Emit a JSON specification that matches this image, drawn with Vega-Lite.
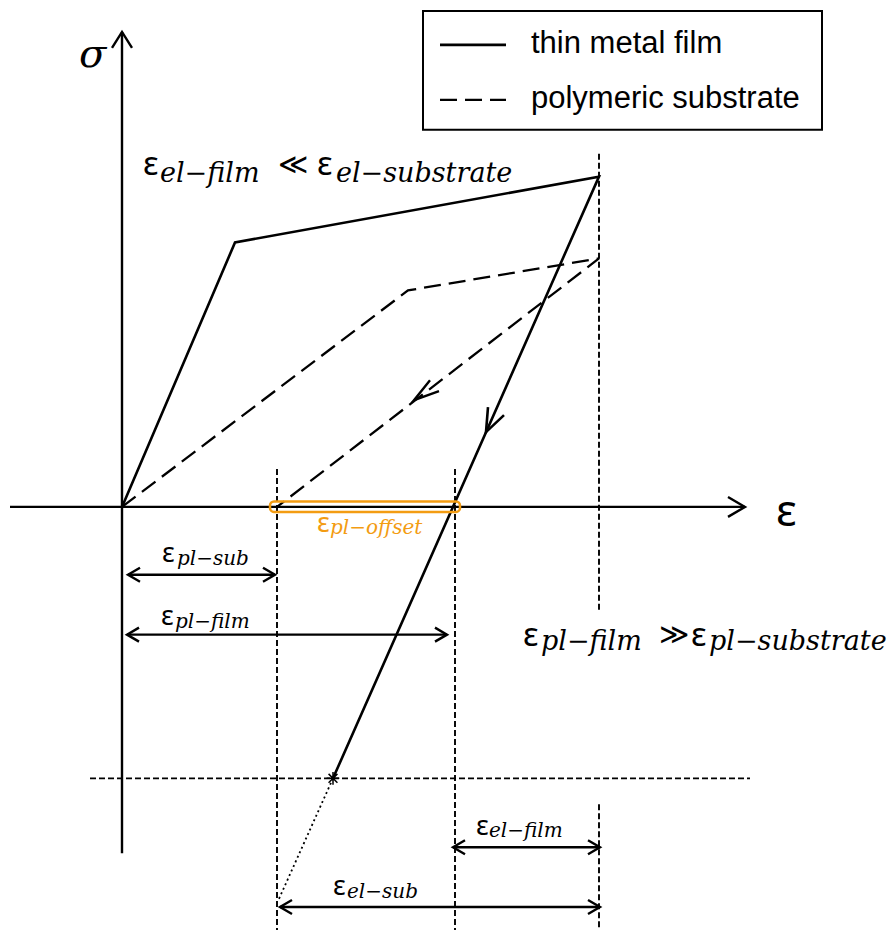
{
  "$schema": "https://vega.github.io/schema/vega-lite/v6.json",
  "width": 893,
  "height": 934,
  "autosize": {"type": "fit", "contains": "padding"},
  "padding": 0,
  "background": "white",
  "config": {"view": {"stroke": null}},
  "datasets": {
    "paths": [
      {"id": "axis-y", "pen": "axis", "seq": 0, "x": 0, "y": -3.47},
      {"id": "axis-y", "pen": "axis", "seq": 1, "x": 0, "y": 4.76},
      {"id": "axis-y-head", "pen": "axis", "seq": 0, "x": -0.10, "y": 4.60},
      {"id": "axis-y-head", "pen": "axis", "seq": 1, "x": 0, "y": 4.76},
      {"id": "axis-y-head", "pen": "axis", "seq": 2, "x": 0.10, "y": 4.60},
      {"id": "axis-x", "pen": "axis", "seq": 0, "x": -1.12, "y": 0},
      {"id": "axis-x", "pen": "axis", "seq": 1, "x": 6.23, "y": 0},
      {"id": "axis-x-head", "pen": "axis", "seq": 0, "x": 6.06, "y": 0.10},
      {"id": "axis-x-head", "pen": "axis", "seq": 1, "x": 6.23, "y": 0},
      {"id": "axis-x-head", "pen": "axis", "seq": 2, "x": 6.06, "y": -0.10},

      {"id": "film", "pen": "film", "seq": 0, "x": 0, "y": 0},
      {"id": "film", "pen": "film", "seq": 1, "x": 1.13, "y": 2.65},
      {"id": "film", "pen": "film", "seq": 2, "x": 4.77, "y": 3.31},
      {"id": "film", "pen": "film", "seq": 3, "x": 2.11, "y": -2.72},
      {"id": "film-head", "pen": "film", "seq": 0, "x": 3.66, "y": 1.00},
      {"id": "film-head", "pen": "film", "seq": 1, "x": 3.64, "y": 0.75},
      {"id": "film-head", "pen": "film", "seq": 2, "x": 3.82, "y": 0.92},
      {"id": "legend-film", "pen": "film", "seq": 0, "x": 3.18, "y": 4.63},
      {"id": "legend-film", "pen": "film", "seq": 1, "x": 3.84, "y": 4.63},

      {"id": "substrate", "pen": "sub", "seq": 0, "x": 0, "y": 0},
      {"id": "substrate", "pen": "sub", "seq": 1, "x": 2.86, "y": 2.17},
      {"id": "substrate", "pen": "sub", "seq": 2, "x": 4.77, "y": 2.49},
      {"id": "substrate", "pen": "sub", "seq": 3, "x": 1.55, "y": 0},
      {"id": "legend-sub", "pen": "sub", "seq": 0, "x": 3.18, "y": 4.08},
      {"id": "legend-sub", "pen": "sub", "seq": 1, "x": 3.84, "y": 4.08},

      {"id": "g-peak-top", "pen": "guide", "seq": 0, "x": 4.77, "y": 3.54},
      {"id": "g-peak-top", "pen": "guide", "seq": 1, "x": 4.77, "y": -1.06},
      {"id": "g-peak-bottom", "pen": "guide", "seq": 0, "x": 4.77, "y": -2.98},
      {"id": "g-peak-bottom", "pen": "guide", "seq": 1, "x": 4.77, "y": -4.24},
      {"id": "g-sub", "pen": "guide", "seq": 0, "x": 1.55, "y": 0.38},
      {"id": "g-sub", "pen": "guide", "seq": 1, "x": 1.55, "y": -4.24},
      {"id": "g-film", "pen": "guide", "seq": 0, "x": 3.33, "y": 0.38},
      {"id": "g-film", "pen": "guide", "seq": 1, "x": 3.33, "y": -4.24},
      {"id": "g-stress", "pen": "guide", "seq": 0, "x": -0.32, "y": -2.72},
      {"id": "g-stress", "pen": "guide", "seq": 1, "x": 6.28, "y": -2.72},

      {"id": "extension", "pen": "dot", "seq": 0, "x": 2.11, "y": -2.72},
      {"id": "extension", "pen": "dot", "seq": 1, "x": 1.56, "y": -3.95},

      {"id": "sub-head", "pen": "dim", "seq": 0, "x": 3.08, "y": 1.27},
      {"id": "sub-head", "pen": "dim", "seq": 1, "x": 2.92, "y": 1.07},
      {"id": "sub-head", "pen": "dim", "seq": 2, "x": 3.17, "y": 1.16},

      {"id": "d1", "pen": "dim", "seq": 0, "x": 0.06, "y": -0.68},
      {"id": "d1", "pen": "dim", "seq": 1, "x": 1.53, "y": -0.68},
      {"id": "d1L", "pen": "dim", "seq": 0, "x": 0.18, "y": -0.61},
      {"id": "d1L", "pen": "dim", "seq": 1, "x": 0.06, "y": -0.68},
      {"id": "d1L", "pen": "dim", "seq": 2, "x": 0.18, "y": -0.75},
      {"id": "d1R", "pen": "dim", "seq": 0, "x": 1.41, "y": -0.61},
      {"id": "d1R", "pen": "dim", "seq": 1, "x": 1.53, "y": -0.68},
      {"id": "d1R", "pen": "dim", "seq": 2, "x": 1.41, "y": -0.75},

      {"id": "d2", "pen": "dim", "seq": 0, "x": 0.05, "y": -1.28},
      {"id": "d2", "pen": "dim", "seq": 1, "x": 3.25, "y": -1.28},
      {"id": "d2L", "pen": "dim", "seq": 0, "x": 0.17, "y": -1.21},
      {"id": "d2L", "pen": "dim", "seq": 1, "x": 0.05, "y": -1.28},
      {"id": "d2L", "pen": "dim", "seq": 2, "x": 0.17, "y": -1.35},
      {"id": "d2R", "pen": "dim", "seq": 0, "x": 3.13, "y": -1.21},
      {"id": "d2R", "pen": "dim", "seq": 1, "x": 3.25, "y": -1.28},
      {"id": "d2R", "pen": "dim", "seq": 2, "x": 3.13, "y": -1.35},

      {"id": "d3", "pen": "dim", "seq": 0, "x": 3.31, "y": -3.41},
      {"id": "d3", "pen": "dim", "seq": 1, "x": 4.78, "y": -3.41},
      {"id": "d3L", "pen": "dim", "seq": 0, "x": 3.43, "y": -3.34},
      {"id": "d3L", "pen": "dim", "seq": 1, "x": 3.31, "y": -3.41},
      {"id": "d3L", "pen": "dim", "seq": 2, "x": 3.43, "y": -3.48},
      {"id": "d3R", "pen": "dim", "seq": 0, "x": 4.66, "y": -3.34},
      {"id": "d3R", "pen": "dim", "seq": 1, "x": 4.78, "y": -3.41},
      {"id": "d3R", "pen": "dim", "seq": 2, "x": 4.66, "y": -3.48},

      {"id": "d4", "pen": "dim", "seq": 0, "x": 1.58, "y": -4.01},
      {"id": "d4", "pen": "dim", "seq": 1, "x": 4.78, "y": -4.01},
      {"id": "d4L", "pen": "dim", "seq": 0, "x": 1.70, "y": -3.94},
      {"id": "d4L", "pen": "dim", "seq": 1, "x": 1.58, "y": -4.01},
      {"id": "d4L", "pen": "dim", "seq": 2, "x": 1.70, "y": -4.08},
      {"id": "d4R", "pen": "dim", "seq": 0, "x": 4.66, "y": -3.94},
      {"id": "d4R", "pen": "dim", "seq": 1, "x": 4.78, "y": -4.01},
      {"id": "d4R", "pen": "dim", "seq": 2, "x": 4.66, "y": -4.08}
    ],
    "boxes": [
      {"kind": "legend", "x": 3.01, "x2": 7.00, "y": 4.97, "y2": 3.78},
      {"kind": "offset", "x": 1.48, "x2": 3.38, "y": 0.055, "y2": -0.05}
    ],
    "points": [
      {"kind": "yield", "x": 2.11, "y": -2.72}
    ],
    "labels": [
      {"part": "sigma", "tone": "ink", "text": "σ", "x": -0.43, "y": 4.41},
      {"part": "eps-axis", "tone": "ink", "text": "ε", "x": 6.54, "y": -0.19},

      {"part": "eps-big", "tone": "ink", "text": "ε", "x": 0.21, "y": 3.33},
      {"part": "sub-big", "tone": "ink", "text": "el−film", "x": 0.38, "y": 3.26},
      {"part": "rel", "tone": "ink", "text": "≪", "x": 1.56, "y": 3.34},
      {"part": "eps-big", "tone": "ink", "text": "ε", "x": 1.95, "y": 3.33},
      {"part": "sub-big", "tone": "ink", "text": "el−substrate", "x": 2.14, "y": 3.26},

      {"part": "eps-big", "tone": "ink", "text": "ε", "x": 4.01, "y": -1.39},
      {"part": "sub-big", "tone": "ink", "text": "pl−film", "x": 4.19, "y": -1.43},
      {"part": "rel", "tone": "ink", "text": "≫", "x": 5.37, "y": -1.37},
      {"part": "eps-big", "tone": "ink", "text": "ε", "x": 5.69, "y": -1.39},
      {"part": "sub-big", "tone": "ink", "text": "pl−substrate", "x": 5.87, "y": -1.43},

      {"part": "eps-small", "tone": "ink", "text": "ε", "x": 0.40, "y": -0.55},
      {"part": "sub-small", "tone": "ink", "text": "pl−sub", "x": 0.55, "y": -0.58},
      {"part": "eps-small", "tone": "ink", "text": "ε", "x": 0.39, "y": -1.18},
      {"part": "sub-small", "tone": "ink", "text": "pl−film", "x": 0.53, "y": -1.21},
      {"part": "eps-small", "tone": "offset", "text": "ε", "x": 1.95, "y": -0.25},
      {"part": "sub-small", "tone": "offset", "text": "pl−offset", "x": 2.08, "y": -0.27},
      {"part": "eps-small", "tone": "ink", "text": "ε", "x": 3.54, "y": -3.29},
      {"part": "sub-small", "tone": "ink", "text": "el−film", "x": 3.67, "y": -3.31},
      {"part": "eps-small", "tone": "ink", "text": "ε", "x": 2.11, "y": -3.89},
      {"part": "sub-small", "tone": "ink", "text": "el−sub", "x": 2.25, "y": -3.92},

      {"part": "legend", "tone": "ink", "text": "thin metal film", "x": 4.09, "y": 4.55},
      {"part": "legend", "tone": "ink", "text": "polymeric substrate", "x": 4.09, "y": 4.00}
    ]
  },
  "encoding": {
    "x": {"field": "x", "type": "quantitative", "scale": {"domain": [-1.22, 7.71], "zero": false, "nice": false}, "axis": null},
    "y": {"field": "y", "type": "quantitative", "scale": {"domain": [-4.26, 5.08], "zero": false, "nice": false}, "axis": null}
  },
  "layer": [
    {
      "data": {"name": "boxes"},
      "transform": [{"filter": "datum.kind === 'legend'"}],
      "mark": {"type": "rect", "fill": null, "stroke": "black", "strokeWidth": 2},
      "encoding": {"x2": {"field": "x2"}, "y2": {"field": "y2"}}
    },
    {
      "data": {"name": "paths"},
      "transform": [{"filter": "datum.pen === 'guide'"}],
      "mark": {"type": "line", "color": "black", "strokeWidth": 1.9, "strokeDash": [6, 3]},
      "encoding": {"detail": {"field": "id"}, "order": {"field": "seq"}}
    },
    {
      "data": {"name": "paths"},
      "transform": [{"filter": "datum.pen === 'dot'"}],
      "mark": {"type": "line", "color": "black", "strokeWidth": 1.8, "strokeDash": [2, 3]},
      "encoding": {"detail": {"field": "id"}, "order": {"field": "seq"}}
    },
    {
      "data": {"name": "paths"},
      "transform": [{"filter": "datum.pen === 'axis'"}],
      "mark": {"type": "line", "color": "black", "strokeWidth": 2.4, "strokeJoin": "miter"},
      "encoding": {"detail": {"field": "id"}, "order": {"field": "seq"}}
    },
    {
      "data": {"name": "paths"},
      "transform": [{"filter": "datum.pen === 'sub'"}],
      "mark": {"type": "line", "color": "black", "strokeWidth": 2.3, "strokeDash": [17, 8]},
      "encoding": {"detail": {"field": "id"}, "order": {"field": "seq"}}
    },
    {
      "data": {"name": "paths"},
      "transform": [{"filter": "datum.pen === 'film'"}],
      "mark": {"type": "line", "color": "black", "strokeWidth": 2.6, "strokeJoin": "miter"},
      "encoding": {"detail": {"field": "id"}, "order": {"field": "seq"}}
    },
    {
      "data": {"name": "paths"},
      "transform": [{"filter": "datum.pen === 'dim'"}],
      "mark": {"type": "line", "color": "black", "strokeWidth": 2.4, "strokeJoin": "miter"},
      "encoding": {"detail": {"field": "id"}, "order": {"field": "seq"}}
    },
    {
      "data": {"name": "boxes"},
      "transform": [{"filter": "datum.kind === 'offset'"}],
      "mark": {"type": "rect", "fill": null, "stroke": "#F39C12", "strokeWidth": 2.5, "cornerRadius": 4},
      "encoding": {"x2": {"field": "x2"}, "y2": {"field": "y2"}}
    },
    {
      "data": {"name": "points"},
      "mark": {"type": "point", "shape": "M-1,0L1,0M0,-1L0,1M-0.7,-0.7L0.7,0.7M-0.7,0.7L0.7,-0.7", "filled": false, "stroke": "black", "strokeWidth": 1.5, "size": 160, "opacity": 1}
    },
    {
      "data": {"name": "labels"},
      "transform": [{"filter": "datum.part === 'sigma'"}],
      "mark": {"type": "text", "align": "left", "baseline": "alphabetic", "font": "DejaVu Serif", "fontStyle": "italic", "fontSize": 40},
      "encoding": {"text": {"field": "text"}, "color": {"value": "black"}}
    },
    {
      "data": {"name": "labels"},
      "transform": [{"filter": "datum.part === 'eps-axis'"}],
      "mark": {"type": "text", "align": "left", "baseline": "alphabetic", "font": "Noto Sans", "fontSize": 44},
      "encoding": {"text": {"field": "text"}, "color": {"value": "black"}}
    },
    {
      "data": {"name": "labels"},
      "transform": [{"filter": "datum.part === 'eps-big'"}],
      "mark": {"type": "text", "align": "left", "baseline": "alphabetic", "font": "Noto Sans", "fontSize": 33},
      "encoding": {"text": {"field": "text"}, "color": {"value": "black"}}
    },
    {
      "data": {"name": "labels"},
      "transform": [{"filter": "datum.part === 'sub-big'"}],
      "mark": {"type": "text", "align": "left", "baseline": "alphabetic", "font": "DejaVu Serif", "fontStyle": "italic", "fontSize": 27},
      "encoding": {"text": {"field": "text"}, "color": {"value": "black"}}
    },
    {
      "data": {"name": "labels"},
      "transform": [{"filter": "datum.part === 'rel'"}],
      "mark": {"type": "text", "align": "left", "baseline": "alphabetic", "font": "DejaVu Sans", "fontSize": 29},
      "encoding": {"text": {"field": "text"}, "color": {"value": "black"}}
    },
    {
      "data": {"name": "labels"},
      "transform": [{"filter": "datum.part === 'eps-small'"}],
      "mark": {"type": "text", "align": "left", "baseline": "alphabetic", "font": "Noto Sans", "fontSize": 27},
      "encoding": {
        "text": {"field": "text"},
        "color": {"field": "tone", "type": "nominal", "scale": {"domain": ["ink", "offset"], "range": ["#000000", "#F39C12"]}, "legend": null}
      }
    },
    {
      "data": {"name": "labels"},
      "transform": [{"filter": "datum.part === 'sub-small'"}],
      "mark": {"type": "text", "align": "left", "baseline": "alphabetic", "font": "DejaVu Serif", "fontStyle": "italic", "fontSize": 20},
      "encoding": {
        "text": {"field": "text"},
        "color": {"field": "tone", "type": "nominal", "scale": {"domain": ["ink", "offset"], "range": ["#000000", "#F39C12"]}, "legend": null}
      }
    },
    {
      "data": {"name": "labels"},
      "transform": [{"filter": "datum.part === 'legend'"}],
      "mark": {"type": "text", "align": "left", "baseline": "alphabetic", "font": "Liberation Sans", "fontSize": 31},
      "encoding": {"text": {"field": "text"}, "color": {"value": "black"}}
    }
  ]
}
